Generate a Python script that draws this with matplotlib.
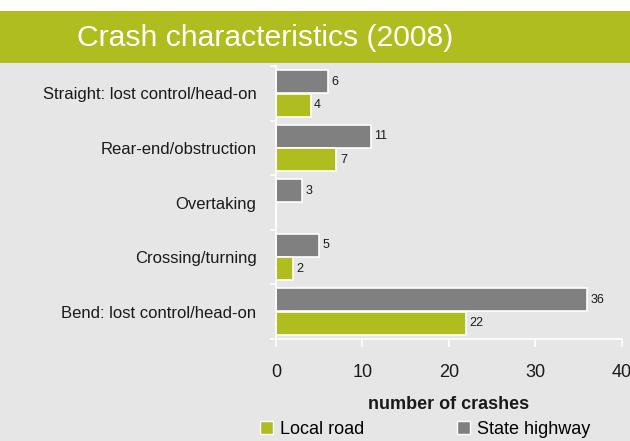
import matplotlib
matplotlib.use("Agg")
import matplotlib.pyplot as plt
from matplotlib.patches import Rectangle, Patch

plt.rcParams["font.family"] = ["Liberation Sans", "DejaVu Sans"]

# data
categories = [
    "Straight: lost control/head-on",
    "Rear-end/obstruction",
    "Overtaking",
    "Crossing/turning",
    "Bend: lost control/head-on",
]
state_highway = [6, 11, 3, 5, 36]
local_road = [4, 7, 0, 2, 22]
x_ticks = [0, 10, 20, 30, 40]

GREEN = "#afbe1e"
GREY = "#808080"
BG = "#e6e6e6"

fig = plt.figure(figsize=(6.3, 4.41), dpi=100, facecolor="white")
# grey panel + green title band
fig.patches.append(Rectangle((0, 0), 1, 0.857, transform=fig.transFigure,
                             facecolor=BG, edgecolor="none", zorder=-2))
fig.patches.append(Rectangle((0, 0.857), 1, 0.118, transform=fig.transFigure,
                             facecolor=GREEN, edgecolor="none", zorder=-1))
fig.text(0.421, 0.914, "Crash characteristics (2008)", color="white",
         fontsize=21.7, ha="center", va="center")

ax = fig.add_axes([0.438, 0.2313, 0.549, 0.619])
ax.set_facecolor(BG)

pos = list(range(len(categories)))
off = 0.215
h = 0.42
ax.barh([p - off for p in pos], state_highway, height=h, color=GREY,
        edgecolor="white", linewidth=1.2, label="State highway")
ax.barh([p + off for p in pos], local_road, height=h, color=GREEN,
        edgecolor="white", linewidth=1.2, label="Local road")

for p, v in zip(pos, state_highway):
    if v:
        ax.text(v + 0.4, p - off, str(v), va="center", ha="left", fontsize=9,
                color="#1a1a1a")
for p, v in zip(pos, local_road):
    if v:
        ax.text(v + 0.4, p + off, str(v), va="center", ha="left", fontsize=9,
                color="#1a1a1a")

ax.set_xlim(0, 40)
ax.set_ylim(len(categories) - 0.5, -0.5)
ax.set_xticks(x_ticks)
ax.set_yticks(pos)
ax.set_yticklabels(categories, fontsize=12, color="#1a1a1a")
ax.set_yticks([p - 0.5 for p in pos] + [len(pos) - 0.5], minor=True)
ax.tick_params(axis="y", which="major", length=0, pad=14)
ax.tick_params(axis="y", which="minor", length=4, color="white", width=1.2)
ax.tick_params(axis="x", length=6, color="white", width=1.2, labelsize=13,
               pad=12, labelcolor="#1a1a1a")

for s in ["top", "right"]:
    ax.spines[s].set_visible(False)
for s in ["left", "bottom"]:
    ax.spines[s].set_color("white")
    ax.spines[s].set_linewidth(1.2)

ax.set_xlabel("number of crashes", fontsize=13, fontweight="bold",
              labelpad=11, color="#1a1a1a")

handles = [Patch(facecolor=GREEN, edgecolor="white", label="Local road"),
           Patch(facecolor=GREY, edgecolor="white", label="State highway")]
fig.legend(handles=handles, loc="center left", bbox_to_anchor=(0.412, 0.026),
           ncol=2, frameon=False, fontsize=13, handlelength=0.75,
           handleheight=0.75, handletextpad=0.4, columnspacing=5.1,
           borderpad=0, borderaxespad=0)

fig.savefig("out.png", dpi=100, facecolor=fig.get_facecolor())
